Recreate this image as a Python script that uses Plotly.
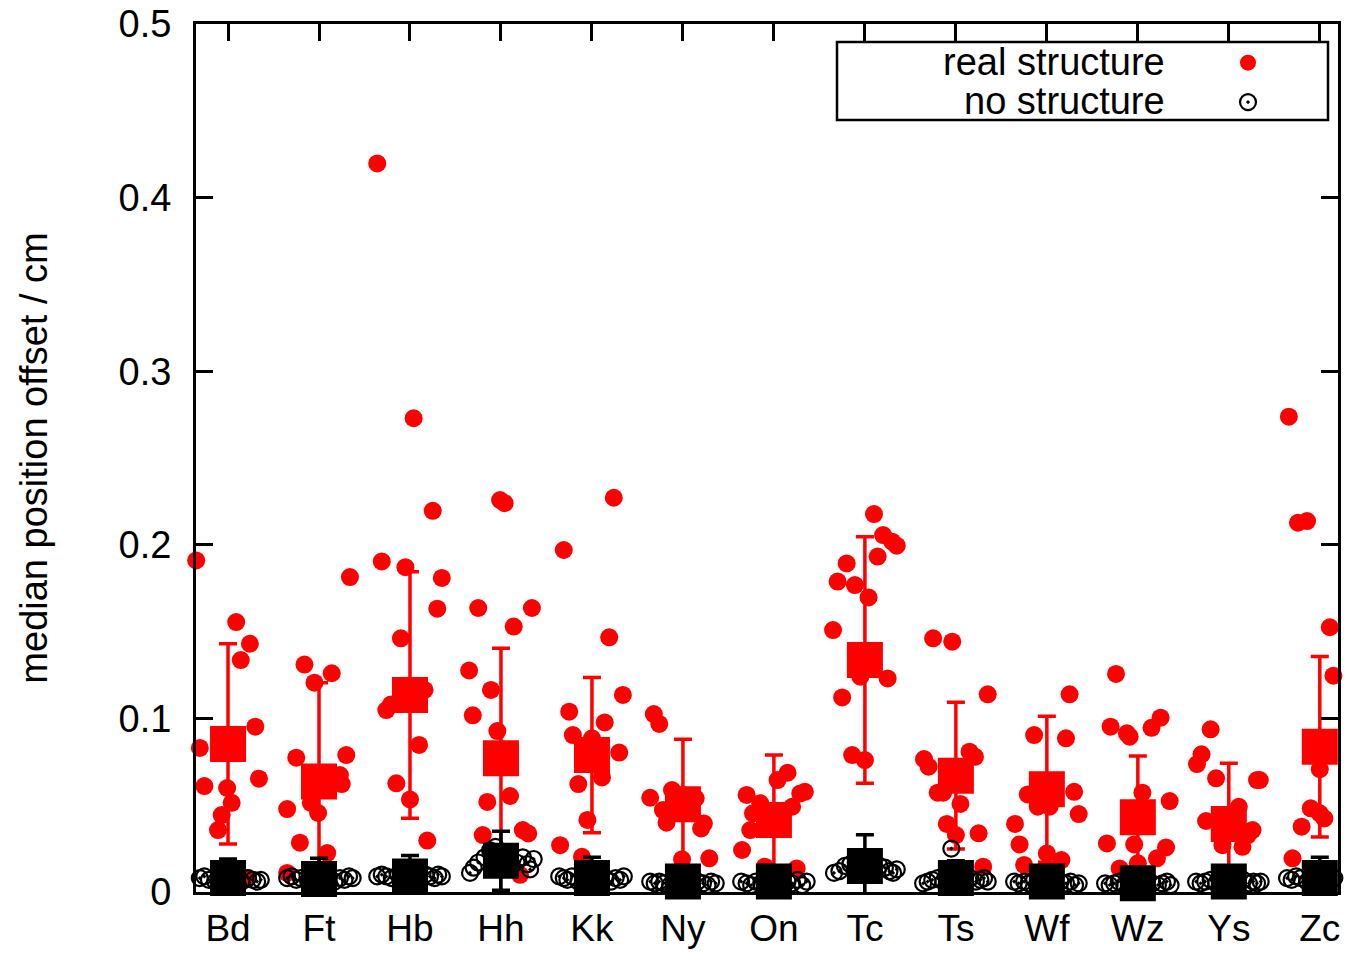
import plotly.graph_objects as go

FONT = "Liberation Sans"

categories = ["Bd", "Ft", "Hb", "Hh", "Kk", "Ny", "On", "Tc", "Ts", "Wf", "Wz", "Ys", "Zc"]

# ---- real structure: individual values and horizontal jitter (in category units) ----
real_Bd = [0.191, 0.1555, 0.143, 0.1336, 0.0952, 0.083, 0.0653, 0.061, 0.0599, 0.0514, 0.0443, 0.0357, 0.008]
jit_real_Bd = [-0.35, 0.09, 0.24, 0.14, 0.30, -0.31, 0.34, -0.26, -0.01, 0.04, -0.07, -0.11, 0.22]
real_Ft = [0.1814, 0.131, 0.126, 0.1206, 0.0789, 0.0774, 0.0674, 0.0622, 0.0514, 0.0478, 0.0455, 0.0284, 0.0224, 0.011]
jit_real_Ft = [0.34, -0.16, 0.14, -0.05, 0.30, -0.25, 0.23, 0.25, -0.09, -0.35, -0.01, -0.21, 0.09, -0.35]
real_Hb = [0.4197, 0.2729, 0.2196, 0.1904, 0.1871, 0.1809, 0.1632, 0.1461, 0.1164, 0.108, 0.1048, 0.0847, 0.0626, 0.0533, 0.0296]
jit_real_Hb = [-0.36, 0.04, 0.25, -0.31, -0.05, 0.35, 0.30, -0.10, 0.16, -0.21, -0.26, 0.10, -0.15, 0.0, 0.19]
real_Hh = [0.2258, 0.224, 0.1636, 0.1636, 0.1529, 0.1276, 0.1164, 0.1018, 0.0927, 0.0553, 0.0519, 0.0357, 0.0337, 0.0328, 0.0099]
jit_real_Hh = [-0.01, 0.04, -0.25, 0.34, 0.14, -0.35, -0.11, -0.31, -0.04, 0.10, -0.15, 0.24, 0.30, -0.20, 0.21]
real_Kk = [0.2271, 0.197, 0.1467, 0.1135, 0.1039, 0.0977, 0.0904, 0.0885, 0.0803, 0.066, 0.0622, 0.0415, 0.027, 0.0203]
jit_real_Kk = [0.24, -0.31, 0.19, 0.34, -0.25, 0.14, -0.21, 0.0, 0.30, 0.11, -0.15, -0.05, -0.35, -0.11]
real_Ny = [0.1025, 0.0968, 0.0587, 0.054, 0.0543, 0.0472, 0.0399, 0.0395, 0.0366, 0.0194, 0.0188]
jit_real_Ny = [-0.32, -0.26, -0.12, 0.14, -0.36, -0.22, -0.18, 0.23, 0.20, 0.29, -0.01]
real_On = [0.0687, 0.0645, 0.0577, 0.0568, 0.0559, 0.0511, 0.0491, 0.0453, 0.0357, 0.0242, 0.0146, 0.0136]
jit_real_On = [0.15, 0.04, 0.34, 0.29, -0.30, -0.15, 0.20, -0.23, -0.26, -0.35, -0.10, 0.25]
real_Tc = [0.2177, 0.2056, 0.2018, 0.1995, 0.1932, 0.1893, 0.1788, 0.1768, 0.1697, 0.1509, 0.124, 0.123, 0.1121, 0.0789, 0.076]
jit_real_Tc = [0.10, 0.20, 0.30, 0.35, 0.14, -0.20, -0.30, -0.11, 0.04, -0.35, -0.05, 0.25, -0.25, -0.14, 0.0]
real_Ts = [0.1461, 0.1442, 0.1139, 0.0808, 0.0779, 0.0766, 0.0722, 0.0572, 0.0572, 0.0507, 0.0392, 0.0338, 0.0328, 0.0146]
jit_real_Ts = [-0.25, -0.04, 0.35, 0.15, 0.21, -0.35, -0.30, -0.20, -0.14, 0.05, -0.10, 0.25, 0.0, 0.30]
real_Wf = [0.1139, 0.0904, 0.0885, 0.0577, 0.0562, 0.0491, 0.0491, 0.0449, 0.0392, 0.0274, 0.0222, 0.0184, 0.0156]
jit_real_Wf = [0.25, -0.14, 0.21, 0.30, -0.21, -0.10, 0.03, 0.35, -0.35, -0.30, 0.0, 0.16, -0.25]
real_Wz = [0.1256, 0.1004, 0.0952, 0.0946, 0.0914, 0.0895, 0.0572, 0.0524, 0.028, 0.0274, 0.0257, 0.0194, 0.0165, 0.0136]
jit_real_Wz = [-0.24, 0.25, -0.30, 0.15, -0.12, -0.09, 0.05, 0.35, -0.34, -0.04, 0.31, 0.21, 0.0, -0.20]
real_Ys = [0.0937, 0.0793, 0.0737, 0.0655, 0.0645, 0.0645, 0.0491, 0.0409, 0.0357, 0.0328, 0.027, 0.026]
jit_real_Ys = [-0.20, -0.30, -0.35, -0.14, 0.31, 0.34, 0.11, -0.25, 0.26, 0.21, -0.07, 0.15]
real_Zc = [0.2738, 0.2137, 0.2127, 0.1868, 0.1525, 0.1246, 0.0966, 0.0707, 0.0607, 0.0482, 0.0453, 0.0424, 0.0405, 0.0376, 0.0194]
jit_real_Zc = [-0.34, -0.14, -0.24, 0.34, 0.11, 0.15, 0.21, 0.0, 0.31, -0.10, 0.0, 0.05, 0.25, -0.20, -0.30]

real_mean = [0.0853, 0.0636, 0.1135, 0.077, 0.0789, 0.0505, 0.0415, 0.1336, 0.067, 0.0592, 0.043, 0.0392, 0.0837]
real_err = [0.0577, 0.057, 0.071, 0.0634, 0.0447, 0.0375, 0.0374, 0.071, 0.0423, 0.042, 0.0353, 0.035, 0.052]

# ---- no structure: individual values and jitter ----
none_Bd = [0.010, 0.008, 0.009, 0.007, 0.006, 0.008, 0.007, 0.009, 0.006, 0.008, 0.007, 0.006, 0.007]
jit_none_Bd = [-0.36, -0.31, -0.26, -0.21, -0.14, -0.07, 0.0, 0.08, 0.15, 0.22, 0.27, 0.32, 0.36]
none_Ft = [0.008, 0.009, 0.007, 0.008, 0.006, 0.009, 0.008, 0.007, 0.006, 0.008, 0.007, 0.009, 0.008]
jit_none_Ft = [-0.35, -0.30, -0.25, -0.20, -0.12, -0.05, 0.02, 0.09, 0.17, 0.23, 0.28, 0.33, 0.37]
none_Hb = [0.009, 0.010, 0.009, 0.008, 0.010, 0.007, 0.009, 0.008, 0.010, 0.009, 0.008, 0.010, 0.009]
jit_none_Hb = [-0.36, -0.31, -0.26, -0.20, -0.13, -0.06, 0.02, 0.10, 0.17, 0.22, 0.27, 0.31, 0.35]
none_Hh = [0.011, 0.014, 0.017, 0.020, 0.024, 0.026, 0.018, 0.021, 0.017, 0.020, 0.016, 0.013, 0.019]
jit_none_Hh = [-0.34, -0.30, -0.25, -0.18, -0.12, -0.06, 0.02, 0.10, 0.17, 0.24, 0.29, 0.32, 0.36]
none_Kk = [0.009, 0.008, 0.007, 0.009, 0.006, 0.008, 0.007, 0.009, 0.008, 0.006, 0.008, 0.007, 0.009]
jit_none_Kk = [-0.36, -0.31, -0.27, -0.22, -0.15, -0.07, 0.01, 0.08, 0.15, 0.21, 0.26, 0.31, 0.35]
none_Ny = [0.006, 0.005, 0.006, 0.005, 0.004, 0.006, 0.005, 0.004, 0.006, 0.005, 0.004, 0.006, 0.005]
jit_none_Ny = [-0.36, -0.31, -0.26, -0.21, -0.14, -0.06, 0.02, 0.09, 0.16, 0.22, 0.27, 0.31, 0.36]
none_On = [0.006, 0.005, 0.004, 0.006, 0.005, 0.006, 0.004, 0.005, 0.006, 0.005, 0.007, 0.004, 0.006]
jit_none_On = [-0.36, -0.30, -0.25, -0.20, -0.14, -0.07, 0.01, 0.08, 0.15, 0.20, 0.26, 0.31, 0.36]
none_Tc = [0.011, 0.012, 0.015, 0.016, 0.017, 0.014, 0.016, 0.013, 0.015, 0.014, 0.012, 0.011, 0.013]
jit_none_Tc = [-0.34, -0.28, -0.22, -0.16, -0.10, -0.04, 0.03, 0.10, 0.16, 0.22, 0.27, 0.31, 0.35]
none_Ts = [0.005, 0.006, 0.007, 0.008, 0.006, 0.025, 0.007, 0.009, 0.008, 0.006, 0.007, 0.008, 0.006]
jit_none_Ts = [-0.36, -0.31, -0.26, -0.20, -0.14, -0.05, 0.02, 0.09, 0.16, 0.22, 0.27, 0.31, 0.35]
none_Wf = [0.006, 0.005, 0.006, 0.005, 0.007, 0.006, 0.004, 0.005, 0.006, 0.005, 0.006, 0.004, 0.005]
jit_none_Wf = [-0.36, -0.31, -0.25, -0.20, -0.14, -0.07, 0.01, 0.08, 0.15, 0.21, 0.26, 0.31, 0.35]
none_Wz = [0.005, 0.004, 0.005, 0.006, 0.004, 0.005, 0.004, 0.006, 0.005, 0.004, 0.005, 0.006, 0.004]
jit_none_Wz = [-0.36, -0.31, -0.26, -0.21, -0.15, -0.07, 0.01, 0.09, 0.16, 0.22, 0.27, 0.32, 0.36]
none_Ys = [0.006, 0.005, 0.006, 0.007, 0.005, 0.006, 0.005, 0.006, 0.007, 0.005, 0.006, 0.005, 0.006]
jit_none_Ys = [-0.36, -0.31, -0.26, -0.20, -0.14, -0.06, 0.02, 0.09, 0.16, 0.22, 0.27, 0.31, 0.35]
none_Zc = [0.008, 0.007, 0.009, 0.008, 0.006, 0.008, 0.007, 0.009, 0.008, 0.007, 0.008, 0.009, 0.007]
jit_none_Zc = [-0.36, -0.31, -0.26, -0.21, -0.14, -0.07, 0.01, 0.09, 0.16, 0.22, 0.27, 0.32, 0.37]

none_mean = [0.008, 0.0075, 0.009, 0.018, 0.008, 0.006, 0.006, 0.015, 0.008, 0.006, 0.005, 0.006, 0.008]
none_err = [0.011, 0.012, 0.012, 0.017, 0.012, 0.007, 0.007, 0.018, 0.010, 0.008, 0.007, 0.008, 0.012]

real_sets = [(real_Bd, jit_real_Bd), (real_Ft, jit_real_Ft), (real_Hb, jit_real_Hb), (real_Hh, jit_real_Hh),
             (real_Kk, jit_real_Kk), (real_Ny, jit_real_Ny), (real_On, jit_real_On), (real_Tc, jit_real_Tc),
             (real_Ts, jit_real_Ts), (real_Wf, jit_real_Wf), (real_Wz, jit_real_Wz), (real_Ys, jit_real_Ys),
             (real_Zc, jit_real_Zc)]
none_sets = [(none_Bd, jit_none_Bd), (none_Ft, jit_none_Ft), (none_Hb, jit_none_Hb), (none_Hh, jit_none_Hh),
             (none_Kk, jit_none_Kk), (none_Ny, jit_none_Ny), (none_On, jit_none_On), (none_Tc, jit_none_Tc),
             (none_Ts, jit_none_Ts), (none_Wf, jit_none_Wf), (none_Wz, jit_none_Wz), (none_Ys, jit_none_Ys),
             (none_Zc, jit_none_Zc)]

cat_pos = list(range(1, len(categories) + 1))


def flatten(sets):
    xs, ys = [], []
    for pos, (vals, jit) in zip(cat_pos, sets):
        for v, j in zip(vals, jit):
            xs.append(pos + j)
            ys.append(v)
    return xs, ys


rx, ry = flatten(real_sets)
nx, ny = flatten(none_sets)

RED = "#ff0000"
fig = go.Figure()

fig.add_trace(go.Scatter(x=rx, y=ry, mode="markers", name=" ", showlegend=True,
                         marker=dict(symbol="circle", size=18, color=RED, line=dict(width=0)),
                         cliponaxis=False))
fig.add_trace(go.Scatter(x=cat_pos, y=real_mean, mode="markers", showlegend=False,
                         marker=dict(symbol="square", size=36, color=RED, line=dict(width=0)),
                         error_y=dict(type="data", array=real_err, color=RED, thickness=3.5, width=9),
                         cliponaxis=False))
fig.add_trace(go.Scatter(x=nx, y=ny, mode="markers", name=" ", showlegend=True,
                         marker=dict(symbol="circle-open-dot", size=16, color="black", line=dict(width=2.2, color="black")),
                         cliponaxis=False))
fig.add_trace(go.Scatter(x=cat_pos, y=none_mean, mode="markers", showlegend=False,
                         marker=dict(symbol="square", size=36, color="black", line=dict(width=0)),
                         error_y=dict(type="data", array=none_err, color="black", thickness=3.5, width=9),
                         cliponaxis=False))

L, R, T, B = 196, 20, 24, 61
W, H = 1358, 953
pw, ph = W - L - R, H - T - B


def px(xp):
    return (xp - L) / pw


def py(yp):
    return (H - B - yp) / ph


fig.update_layout(
    width=W, height=H,
    margin=dict(l=L, r=R, t=T, b=B, pad=0, autoexpand=False),
    paper_bgcolor="white", plot_bgcolor="white",
    font=dict(family=FONT, size=38, color="black"),
    showlegend=True,
    legend=dict(x=px(1228), y=py(38), xanchor="left", yanchor="top",
                bgcolor="rgba(0,0,0,0)", borderwidth=0, font=dict(size=28),
                tracegroupgap=0, itemsizing="trace"),
    xaxis=dict(range=[0.648, 13.2], tickmode="array", tickvals=cat_pos, ticktext=categories,
               showgrid=False, zeroline=False, showline=True, linecolor="black", linewidth=3,
               mirror="ticks", ticks="inside", ticklen=17, tickwidth=2.5, tickcolor="black",
               tickfont=dict(size=37), ticklabelstandoff=2, automargin=False),
    yaxis=dict(range=[0, 0.5], tickmode="array", tickvals=[0, 0.1, 0.2, 0.3, 0.4, 0.5],
               ticktext=["0", "0.1", "0.2", "0.3", "0.4", "0.5"],
               showgrid=False, zeroline=False, showline=True, linecolor="black", linewidth=3,
               mirror="ticks", ticks="inside", ticklen=17, tickwidth=2.5, tickcolor="black",
               tickfont=dict(size=38), ticklabelstandoff=14, automargin=False,
               title=dict(text="median position offset / cm", font=dict(size=38), standoff=60)),
    shapes=[dict(type="rect", xref="paper", yref="paper", x0=px(837), x1=px(1328), y0=py(120), y1=py(42),
                 line=dict(color="black", width=2.5), fillcolor="rgba(0,0,0,0)", layer="above")],
    annotations=[
        dict(text="real structure", xref="paper", yref="paper", x=px(1167), y=py(62), xanchor="right",
             yanchor="middle", showarrow=False, font=dict(size=38)),
        dict(text="no structure", xref="paper", yref="paper", x=px(1167), y=py(101), xanchor="right",
             yanchor="middle", showarrow=False, font=dict(size=38)),
    ],
)

fig.write_html("out.html")
